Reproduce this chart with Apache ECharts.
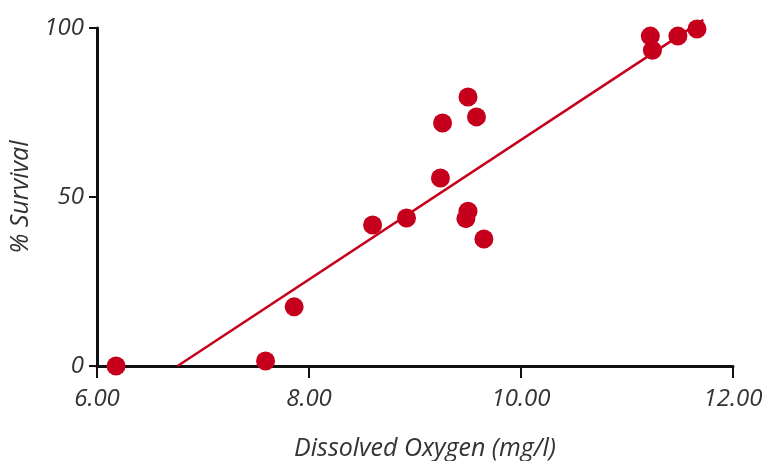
<!DOCTYPE html>
<html>
<head>
<meta charset="utf-8">
<script src="https://cdn.jsdelivr.net/npm/echarts@6/dist/echarts.min.js"></script>
<style>
html,body{margin:0;padding:0;background:#fff;}
#chart{width:763px;height:461px;}
</style>
</head>
<body>
<div id="chart"></div>
<script>
// Data
const oxygen   = [6.18, 7.59, 7.86, 8.60, 8.92, 9.24, 9.26, 9.50, 9.58, 9.48, 9.50, 9.65, 11.22, 11.24, 11.48, 11.66];
const survival = [0,    1.5,  17.5, 41.7, 43.8, 55.6, 71.9, 79.6, 73.7, 43.6, 45.8, 37.6, 97.6,  93.4,  97.6,  99.7];
// Fitted line end points
const fitX = [6.76, 11.72];
const fitY = [0, 102.4];
const xTicks = [6, 8, 10, 12];
const yTicks = [0, 50, 100];

const red = '#c6001c';
const font = '"Open Sans", "Liberation Sans", sans-serif';

const chart = echarts.init(document.getElementById('chart'), null, {renderer: 'canvas'});
chart.setOption({
  animation: false,
  backgroundColor: '#fff',
  grid: {left: 97, right: 30, top: 28, bottom: 95, containLabel: false, outerBoundsMode: 'none'},
  xAxis: {
    type: 'value',
    min: xTicks[0], max: xTicks[xTicks.length - 1], interval: 2,
    name: 'Dissolved Oxygen (mg/l)',
    nameLocation: 'middle',
    nameGap: 70,
    nameTextStyle: {fontFamily: font, fontStyle: 'italic', fontSize: 25, color: '#333', padding: [0, 0, 0, 20]},
    axisLine: {show: true, lineStyle: {color: '#111', width: 3}},
    axisTick: {show: true, inside: false, length: 12, lineStyle: {color: '#111', width: 2}},
    axisLabel: {fontFamily: font, fontStyle: 'italic', fontSize: 24, color: '#333', margin: 21,
      formatter: v => v.toFixed(2)},
    splitLine: {show: false}
  },
  yAxis: {
    type: 'value',
    min: yTicks[0], max: yTicks[yTicks.length - 1], interval: 50,
    name: '% Survival',
    nameLocation: 'middle',
    nameGap: 62,
    nameRotate: 90,
    nameTextStyle: {fontFamily: font, fontStyle: 'italic', fontSize: 25, color: '#333'},
    axisLine: {show: true, lineStyle: {color: '#111', width: 3}},
    axisTick: {show: true, inside: false, length: 8, lineStyle: {color: '#111', width: 2}},
    axisLabel: {fontFamily: font, fontStyle: 'italic', fontSize: 24, color: '#333', margin: 13},
    splitLine: {show: false}
  },
  series: [
    {
      type: 'line',
      data: fitX.map((x, i) => [x, fitY[i]]),
      showSymbol: false,
      lineStyle: {color: red, width: 2.5},
      z: 3,
      clip: false
    },
    {
      type: 'scatter',
      data: oxygen.map((x, i) => [x, survival[i]]),
      symbol: 'circle',
      symbolSize: 19,
      itemStyle: {color: red, opacity: 1},
      z: 4,
      clip: false
    }
  ]
});
</script>
</body>
</html>
